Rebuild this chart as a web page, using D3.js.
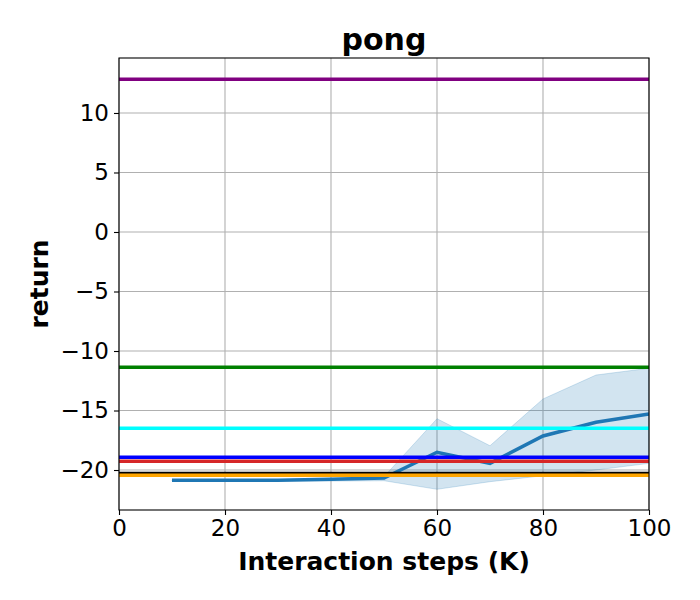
<!DOCTYPE html>
<html>
<head>
<meta charset="utf-8">
<script src="https://cdn.jsdelivr.net/npm/d3@7"></script>
<style>
  body { margin: 0; background: #fff; }
  svg text { font-family: "DejaVu Sans", sans-serif; }
</style>
</head>
<body>
<div id="plot"></div>
<script>
// pong returns, interaction steps in K
const steps = [10, 20, 30, 40, 50, 60, 70, 80, 90, 100];
const meanReturn = [-20.87, -20.87, -20.85, -20.78, -20.68, -18.51, -19.44, -17.14, -15.99, -15.29];
const upperReturn = [-20.82, -20.82, -20.81, -20.7, -20.56, -15.69, -17.96, -14.03, -12.02, -11.45];
const lowerReturn = [-20.92, -20.92, -20.93, -20.93, -20.9, -21.62, -20.98, -20.48, -20.0, -19.44];

// reference levels (drawn as full width lines)
const refNames = ["purple", "green", "cyan", "blue", "red", "black", "orange"];
const refValues = [12.83, -11.37, -16.5, -18.93, -19.26, -20.3, -20.43];

const xTicks = [0, 20, 40, 60, 80, 100];
const yTicks = [10, 5, 0, -5, -10, -15, -20];

const total_width = 700
const total_height = 600
const margin = {left: 119, top: 58, right: 51, bottom: 90}
var width = total_width - margin.left - margin.right
var height = total_height - margin.top - margin.bottom

var svg = d3.select("#plot")
  .append("svg")
  .attr("width", total_width)
  .attr("height", total_height)
  .append("g")
  .attr("transform", "translate(" + margin.left + "," + margin.top + ")");

var x = d3.scaleLinear().domain([0, 100]).range([0, width]);
var y = d3.scaleLinear().domain([-23.36, 14.62]).range([height, 0]);

// grid
svg.append("g").selectAll("line").data(xTicks).enter().append("line")
  .attr("x1", d => x(d)).attr("x2", d => x(d))
  .attr("y1", 0).attr("y2", height)
  .attr("stroke", "#b0b0b0").attr("stroke-width", 1.1);
svg.append("g").selectAll("line").data(yTicks).enter().append("line")
  .attr("x1", 0).attr("x2", width)
  .attr("y1", d => y(d)).attr("y2", d => y(d))
  .attr("stroke", "#b0b0b0").attr("stroke-width", 1.1);

var clip = svg.append("clipPath").attr("id", "clip")
  .append("rect").attr("width", width).attr("height", height);
var plotArea = svg.append("g").attr("clip-path", "url(#clip)");

// shaded band
var band = d3.area()
  .x((d, i) => x(steps[i]))
  .y0((d, i) => y(lowerReturn[i]))
  .y1((d, i) => y(upperReturn[i]));
plotArea.append("path").datum(steps)
  .attr("d", band)
  .attr("fill", "#1f77b4").attr("fill-opacity", 0.2)
  .attr("stroke", "#1f77b4").attr("stroke-opacity", 0.2);

var meanLine = d3.line()
  .x((d, i) => x(steps[i]))
  .y((d, i) => y(meanReturn[i]));
plotArea.append("path").datum(steps)
  .attr("d", meanLine)
  .attr("fill", "none").attr("stroke", "#1f77b4").attr("stroke-width", 3.5);

plotArea.append("g").selectAll("line").data(refValues).enter().append("line")
  .attr("x1", 0).attr("x2", width)
  .attr("y1", d => y(d)).attr("y2", d => y(d))
  .attr("stroke", (d, i) => refNames[i] == "red" ? "#d62728" : refNames[i])
  .attr("stroke-width", 3.5);

// axes
var xAxis = d3.axisBottom(x).tickValues(xTicks).tickSize(5).tickPadding(5);
var gx = svg.append("g").attr("transform", "translate(0," + height + ")").call(xAxis);
var yAxis = d3.axisLeft(y).tickValues(yTicks).tickSize(5).tickPadding(5)
  .tickFormat(d => d < 0 ? "\u2212" + Math.abs(d) : d);
var gy = svg.append("g").call(yAxis);
[gx, gy].forEach(g => {
  g.select(".domain").remove();
  g.selectAll(".tick line").attr("stroke", "#000").attr("stroke-width", 1.1);
  g.selectAll("text").style("font-size", "23px").attr("fill", "#000");
});

// frame
svg.append("rect").attr("width", width).attr("height", height)
  .attr("fill", "none").attr("stroke", "#000").attr("stroke-width", 1.1);

svg.append("text").attr("x", width / 2).attr("y", -8)
  .attr("text-anchor", "middle").style("font-size", "30px").style("font-weight", "bold")
  .text("pong");
svg.append("text").attr("x", width / 2).attr("y", height + 60)
  .attr("text-anchor", "middle").style("font-size", "25px").style("font-weight", "bold")
  .text("Interaction steps (K)");
svg.append("text").attr("transform", "translate(-71," + (height / 2) + ") rotate(-90)")
  .attr("text-anchor", "middle").style("font-size", "25px").style("font-weight", "bold")
  .text("return");
</script>
</body>
</html>
